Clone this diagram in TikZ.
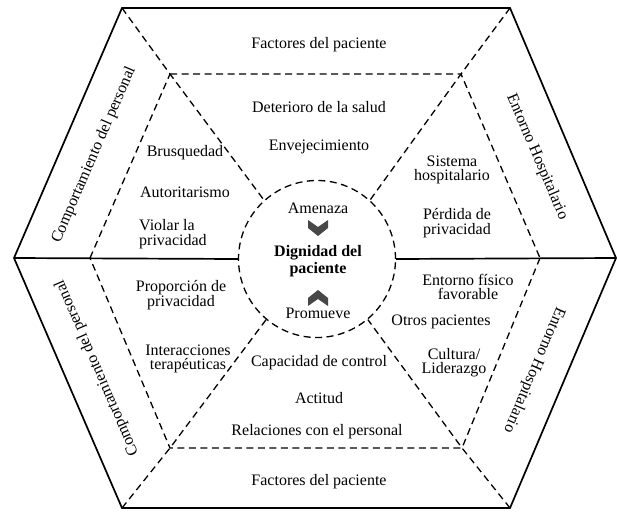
\documentclass[tikz,border=0pt]{standalone}
\usepackage{fontspec}
\setmainfont{Liberation Serif}

\tikzset{
    hexline/.style={line width=1.7pt},
    divline/.style={line width=1.3pt, dash pattern=on 7pt off 4.5pt},
    lbl/.style={align=center, inner sep=0pt, font=\fontsize{16}{14.3}\selectfont},
    chev/.style={fill=black!72},
}

\begin{document}
\begin{tikzpicture}[x=1pt, y=-1pt]
\useasboundingbox (0,0) rectangle (617,511);

% outer hexagon
\coordinate (otl) at (122,8);
\coordinate (otr) at (510,8);
\coordinate (or)  at (616,258);
\coordinate (obr) at (510,508);
\coordinate (obl) at (122,508);
\coordinate (ol)  at (14,258);
\draw[hexline] (otl) -- (otr) -- (or) -- (obr) -- (obl) -- (ol) -- cycle;

% inner hexagon
\coordinate (itl) at (170,74);
\coordinate (itr) at (461,74);
\coordinate (ir)  at (540,258);
\coordinate (ibr) at (462,448);
\coordinate (ibl) at (170,448);
\coordinate (il)  at (90,258);
\draw[divline] (itl) -- (itr) -- (ir);
\draw[divline] (ir) -- (ibr) -- (ibl) -- (il);
\draw[divline] (il) -- (itl);

% centre
\node[circle, draw, divline, minimum size=157pt, inner sep=0pt] (core) at (317,259) {};
\draw[hexline] (ol) -- (core.west);
\draw[hexline] (core.east) -- (or);

% radial dividers
\draw[divline] (otl) -- (itl) -- (core.132);
\draw[divline] (otr) -- (itr) -- (core.48);
\draw[divline] (obr) -- (ibr) -- (core.-50);
\draw[divline] (obl) -- (ibl) -- (core.-130);

% side titles
\node[lbl, rotate=66.6]   (persup) at (94,155)  {Comportamiento del personal};
\node[lbl, rotate=113.4]  (persdn) at (97,368)  {Comportamiento del personal};
\node[lbl, rotate=-66.8]  (entup)  at (537,157) {Entorno Hospitalario};
\node[lbl, rotate=-113.2] (entdn)  at (534,370) {Entorno Hospitalario};
\node[lbl] (facup) at (319,45)  {Factores del paciente};
\node[lbl] (facdn) at (319,482) {Factores del paciente};

% upper sectors
\node[lbl] (deter) at (319,107) {Deterioro de la salud};
\node[lbl] (envej) at (319,147) {Envejecimiento};
\node[lbl] (brusq) at (185,153) {Brusquedad};
\node[lbl] (autor) at (185,192) {Autoritarismo};
\node[lbl, align=left, anchor=west] (viola) at (139,234) {Violar la\\privacidad};
\node[lbl] (siste) at (452,170) {Sistema\\hospitalario};
\node[lbl] (perdi) at (457,223) {Pérdida de\\privacidad};

% lower sectors
\node[lbl] (propo) at (181,295) {Proporción de\\privacidad};
\node[lbl] (inter) at (188,359) {Interacciones\\terapéuticas};
\node[lbl] (capac) at (319,363) {Capacidad de control};
\node[lbl] (actit) at (319,398) {Actitud};
\node[lbl] (relac) at (317,432) {Relaciones con el personal};
\node[lbl] (fisic) at (468,287) {Entorno físico\\favorable};
\node[lbl] (otros) at (441,322) {Otros pacientes};
\node[lbl] (cultu) at (454,363) {Cultura/\\Liderazgo};

% core
\node[lbl] (amena) at (318,208) {Amenaza};
\node[lbl, font=\fontsize{16}{17}\selectfont\bfseries] (digni) at (318,261) {Dignidad del\\paciente};
\node[lbl] (promu) at (318,313) {Promueve};
\fill[chev] (308,220) -- (318,227) -- (328,220) -- (328,228) -- (318,236) -- (308,228) -- cycle;
\fill[chev] (308,306) -- (318,299) -- (328,306) -- (328,298) -- (318,290) -- (308,298) -- cycle;
\end{tikzpicture}
\end{document}
